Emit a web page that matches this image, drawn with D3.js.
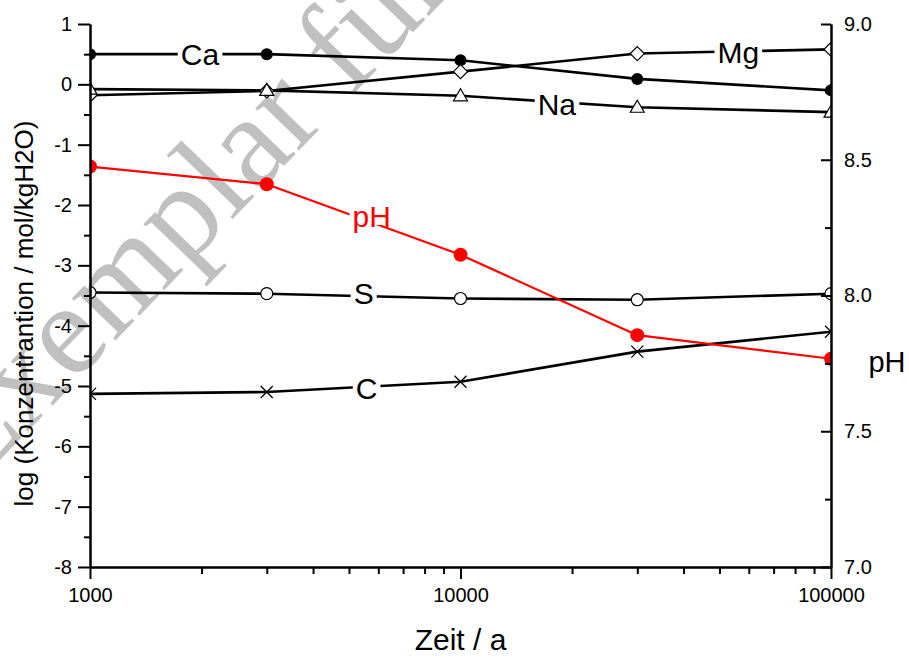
<!DOCTYPE html>
<html>
<head>
<meta charset="utf-8">
<script src="https://cdn.jsdelivr.net/npm/d3@7"></script>
<style>
  html, body { margin: 0; padding: 0; background: #fff; }
  svg { display: block; font-family: "Liberation Sans", Arial, sans-serif; }
</style>
</head>
<body>
<svg id="chart" width="909" height="658"></svg>
<script>
// ---- data ----
const times = [1000, 3000, 10000, 30000, 100000];
const caValues = [0.5, 0.5, 0.4, 0.09, -0.1];
const mgValues = [-0.18, -0.11, 0.21, 0.51, 0.58];
const naValues = [-0.08, -0.1, -0.19, -0.38, -0.46];
const sValues = [-3.45, -3.47, -3.55, -3.57, -3.47];
const cValues = [-5.13, -5.1, -4.93, -4.43, -4.1];
const phValues = [8.475, 8.41, 8.15, 7.854, 7.767];

const xTickLabels = [1000, 10000, 100000];
const xMinorTicks = [2000, 3000, 4000, 5000, 6000, 7000, 8000, 9000,
                     20000, 30000, 40000, 50000, 60000, 70000, 80000, 90000];
const yTickLabels = [-8, -7, -6, -5, -4, -3, -2, -1, 0, 1];
const yMinorTicks = [-7.5, -6.5, -5.5, -4.5, -3.5, -2.5, -1.5, -0.5, 0.5];
const phTickLabels = [7.0, 7.5, 8.0, 8.5, 9.0];
const phMinorTicks = [7.25, 7.75, 8.25, 8.75];

const seriesNames = ["Ca", "Mg", "Na", "S", "C", "pH"];
// label anchor points in data units: [time, value]
const labelTimes = [1980, 56200, 18200, 5480, 5580, 5760];
const labelValues = [0.5, 0.54, -0.33, -3.47, -5.04, 8.293];

const xTitle = "Zeit / a";
const yTitle = "log (Konzentrantion / mol/kgH2O)";
const yRightTitle = "pH";
const watermark = "Exemplar für";

// ---- layout ----
const svg = d3.select("#chart");
const L = 90, R = 831, T = 24, B = 567;

const x = d3.scaleLog().domain([1000, 100000]).range([L, R]);
const y = d3.scaleLinear().domain([-8, 1]).range([B, T]);
const yR = d3.scaleLinear().domain([7, 9]).range([B, T]);

// watermark
svg.append("text")
  .attr("transform", "translate(-29,490) rotate(-46)")
  .attr("font-family", "'Liberation Serif', 'Times New Roman', serif")
  .attr("font-size", 132)
  .attr("fill", "#c0c0c0")
  .text(watermark);

svg.append("defs").append("clipPath").attr("id", "plotclip")
  .append("rect").attr("x", L).attr("y", 0).attr("width", R - L).attr("height", 658);

const series = [
  { name: "Ca", vals: caValues, scale: y, color: "#000", width: 2.6, marker: "fcircle" },
  { name: "Mg", vals: mgValues, scale: y, color: "#000", width: 2.6, marker: "diamond" },
  { name: "Na", vals: naValues, scale: y, color: "#000", width: 2.6, marker: "triangle" },
  { name: "S", vals: sValues, scale: y, color: "#000", width: 2.6, marker: "ocircle" },
  { name: "C", vals: cValues, scale: y, color: "#000", width: 2.6, marker: "cross" },
  { name: "pH", vals: phValues, scale: yR, color: "#ff0000", width: 2.2, marker: "rcircle" }
];

const plot = svg.append("g").attr("clip-path", "url(#plotclip)");

// lines
series.forEach(s => {
  const line = d3.line().x((d, i) => x(times[i])).y(d => s.scale(d));
  plot.append("path").datum(s.vals)
    .attr("d", line).attr("fill", "none")
    .attr("stroke", s.color).attr("stroke-width", s.width)
    .attr("stroke-linejoin", "round");
});

// labels on lines with white background
const labelG = svg.append("g");
series.forEach(s => {
  const idx = seriesNames.indexOf(s.name);
  const lx = x(labelTimes[idx]);
  const ly = s.scale(labelValues[idx]);
  const g = labelG.append("g");
  const t = g.append("text")
    .attr("x", lx).attr("y", ly)
    .attr("text-anchor", "middle")
    .attr("dy", "0.36em")
    .attr("font-size", 30)
    .attr("fill", s.color)
    .text(s.name);
  const bb = t.node().getBBox();
  g.insert("rect", "text")
    .attr("x", bb.x - 3).attr("y", ly - 9)
    .attr("width", bb.width + 6).attr("height", 18)
    .attr("fill", "#fff");
});

// markers
series.forEach(s => {
  const g = plot.append("g");
  s.vals.forEach((v, i) => {
    const px = x(times[i]), py = s.scale(v);
    if (s.marker === "fcircle") {
      g.append("circle").attr("cx", px).attr("cy", py).attr("r", 6).attr("fill", "#000");
    } else if (s.marker === "rcircle") {
      g.append("circle").attr("cx", px).attr("cy", py).attr("r", 7).attr("fill", "#ff0000");
    } else if (s.marker === "ocircle") {
      g.append("circle").attr("cx", px).attr("cy", py).attr("r", 6)
        .attr("fill", "#fff").attr("stroke", "#000").attr("stroke-width", 1.2);
    } else if (s.marker === "diamond") {
      g.append("path")
        .attr("d", `M${px},${py - 7}L${px + 7},${py}L${px},${py + 7}L${px - 7},${py}Z`)
        .attr("fill", "#fff").attr("stroke", "#000").attr("stroke-width", 1.2);
    } else if (s.marker === "triangle") {
      g.append("path")
        .attr("d", `M${px},${py - 7}L${px + 7},${py + 5}L${px - 7},${py + 5}Z`)
        .attr("fill", "#fff").attr("stroke", "#000").attr("stroke-width", 1.2);
    } else if (s.marker === "cross") {
      g.append("path")
        .attr("d", `M${px - 6},${py - 6}L${px + 6},${py + 6}M${px + 6},${py - 6}L${px - 6},${py + 6}`)
        .attr("fill", "none").attr("stroke", "#000").attr("stroke-width", 1.3);
    }
  });
});

// axes
function styleAxis(g, fs) {
  g.select(".domain").attr("stroke", "#000").attr("stroke-width", 2);
  g.selectAll(".tick line").attr("stroke", "#000").attr("stroke-width", 2);
  g.selectAll(".tick text").attr("fill", "#000").attr("font-size", fs)
    .attr("font-family", "'Liberation Sans', Arial, sans-serif");
}

// left
const gLm = svg.append("g").attr("transform", `translate(${L},0)`)
  .call(d3.axisLeft(y).tickValues(yMinorTicks).tickSize(6).tickSizeOuter(0).tickFormat(""));
styleAxis(gLm, 20);
const gL = svg.append("g").attr("transform", `translate(${L},0)`)
  .call(d3.axisLeft(y).tickValues(yTickLabels).tickSize(12).tickSizeOuter(0).tickPadding(6)
    .tickFormat(d => String(d)));
styleAxis(gL, 20);

// right
const gRm = svg.append("g").attr("transform", `translate(${R},0)`)
  .call(d3.axisRight(yR).tickValues(phMinorTicks).tickSize(-6).tickSizeOuter(0).tickFormat(""));
styleAxis(gRm, 20);
const gR = svg.append("g").attr("transform", `translate(${R},0)`)
  .call(d3.axisRight(yR).tickValues(phTickLabels).tickSize(-10).tickSizeOuter(0).tickPadding(13)
    .tickFormat(d3.format(".1f")));
styleAxis(gR, 20);

// bottom
const gBm = svg.append("g").attr("transform", `translate(0,${B})`)
  .call(d3.axisBottom(x).tickValues(xMinorTicks).tickSize(7).tickSizeOuter(0).tickFormat(""));
styleAxis(gBm, 20);
const gB = svg.append("g").attr("transform", `translate(0,${B})`)
  .call(d3.axisBottom(x).tickValues(xTickLabels).tickSize(12).tickSizeOuter(0).tickPadding(9)
    .tickFormat(d => String(d)));
styleAxis(gB, 20);

// titles
svg.append("text")
  .attr("x", (L + R) / 2).attr("y", 650)
  .attr("text-anchor", "middle").attr("font-size", 30)
  .text(xTitle);
svg.append("text")
  .attr("transform", `translate(33,${(T + B) / 2 + 18}) rotate(-90)`)
  .attr("text-anchor", "middle").attr("font-size", 26)
  .text(yTitle);
svg.append("text")
  .attr("x", 887).attr("y", 362).attr("dy", "0.36em")
  .attr("text-anchor", "middle").attr("font-size", 29)
  .text(yRightTitle);
</script>
</body>
</html>
